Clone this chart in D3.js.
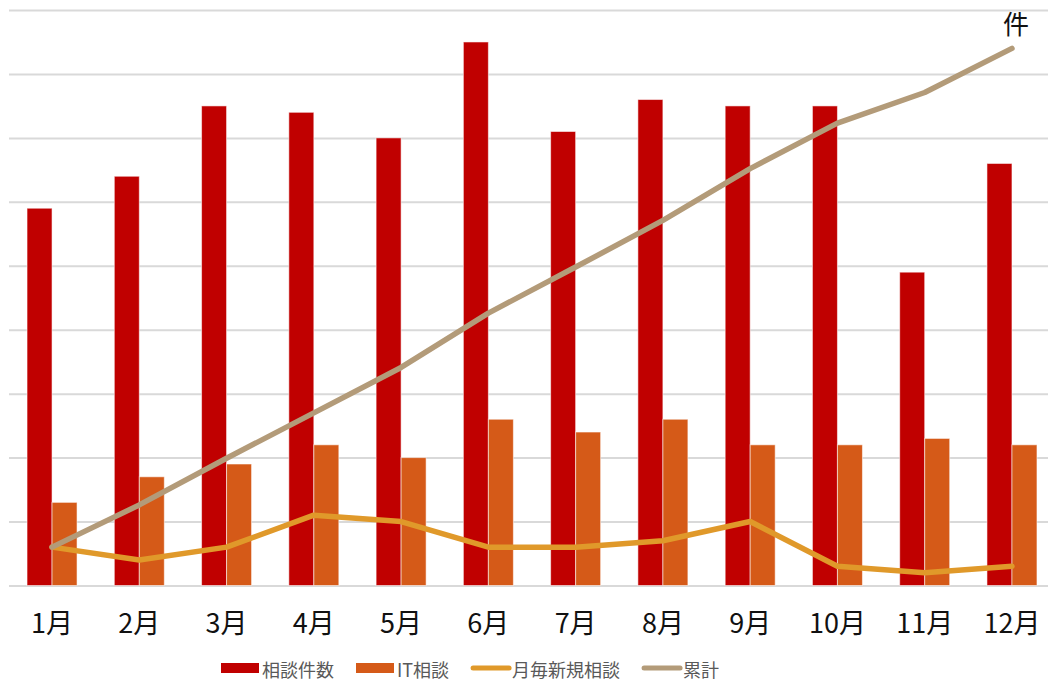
<!DOCTYPE html>
<html>
<head>
<meta charset="utf-8">
<script src="https://cdn.jsdelivr.net/npm/d3@7/dist/d3.min.js"></script>
<style>
  html, body { margin: 0; padding: 0; background: #fff; overflow: hidden; }
  svg { display: block; font-family: "Noto Sans CJK JP", "Noto Sans", sans-serif; }
</style>
</head>
<body>
<svg id="chart" width="1048" height="682"></svg>
<script>
// ---- data ----
const months = ["1月","2月","3月","4月","5月","6月","7月","8月","9月","10月","11月","12月"];
const consults = [59, 64, 75, 74, 70, 85, 71, 76, 75, 75, 49, 66];      // 相談件数
const itConsults = [13, 17, 19, 22, 20, 26, 24, 26, 22, 22, 23, 22];    // IT相談
const monthlyNew = [6, 4, 6, 11, 10, 6, 6, 7, 10, 3, 2, 3];             // 月毎新規相談
const cumulative = [60, 126, 199, 270, 341, 426, 498, 571, 652, 723, 771, 840]; // 累計 (secondary axis)
const leftTicks = [0, 10, 20, 30, 40, 50, 60, 70, 80, 90];
const seriesNames = ["相談件数", "IT相談", "月毎新規相談", "累計"];
const unitLabel = "件";

// ---- styles ----
const colors = { "相談件数": "#C00000", "IT相談": "#D55A18", "月毎新規相談": "#E0992A", "累計": "#B39B79" };

const svg = d3.select("#chart");
const plot = { left: 8.4, right: 1055.6, top: 10, bottom: 585.5 };

const x0 = d3.scaleBand().domain(months).range([plot.left, plot.right]).padding(0);
const groupW = x0.bandwidth() * 0.573;
const x1 = d3.scaleBand().domain(["相談件数", "IT相談"]).range([0, groupW]);
const y = d3.scaleLinear().domain([0, 90]).range([plot.bottom, plot.top]);
const y2 = d3.scaleLinear().domain([0, 900]).range([plot.bottom, plot.top]);

// gridlines
const grid = svg.append("g")
  .attr("transform", `translate(${plot.left + 0.6},0)`)
  .call(d3.axisLeft(y).tickValues(leftTicks).tickSize(-(plot.right - plot.left)).tickFormat(""));
grid.select(".domain").remove();
grid.selectAll("line").attr("stroke", "#d9d9d9").attr("stroke-width", 2);

// bars
const groups = svg.append("g").selectAll("g").data(months).join("g")
  .attr("transform", d => `translate(${x0(d) + (x0.bandwidth() - groupW) / 2},0)`);

groups.append("rect")
  .attr("x", x1("相談件数"))
  .attr("width", x1.bandwidth())
  .attr("y", (d, i) => y(consults[i]))
  .attr("height", (d, i) => y(0) - y(consults[i]))
  .attr("fill", colors["相談件数"])
  .attr("stroke", "rgba(255,255,255,0.55)").attr("stroke-width", 1);

groups.append("rect")
  .attr("x", x1("IT相談"))
  .attr("width", x1.bandwidth())
  .attr("y", (d, i) => y(itConsults[i]))
  .attr("height", (d, i) => y(0) - y(itConsults[i]))
  .attr("fill", colors["IT相談"])
  .attr("stroke", "rgba(255,255,255,0.55)").attr("stroke-width", 1);

const cx = m => x0(m) + x0.bandwidth() / 2;

// monthly new line
svg.append("path")
  .datum(months.map((m, i) => [cx(m), y(monthlyNew[i])]))
  .attr("fill", "none")
  .attr("stroke", colors["月毎新規相談"])
  .attr("stroke-width", 5.5)
  .attr("stroke-linejoin", "round")
  .attr("stroke-linecap", "round")
  .attr("d", d3.line());

// cumulative line
svg.append("path")
  .datum(months.map((m, i) => [cx(m), y2(cumulative[i])]))
  .attr("fill", "none")
  .attr("stroke", colors["累計"])
  .attr("stroke-width", 5.5)
  .attr("stroke-linejoin", "round")
  .attr("stroke-linecap", "round")
  .attr("d", d3.line());

// x axis labels
const xAxis = svg.append("g")
  .attr("transform", `translate(0,${plot.bottom})`)
  .call(d3.axisBottom(x0).tickSize(0).tickPadding(0));
xAxis.select(".domain").remove();
xAxis.selectAll("text")
  .attr("y", 47)
  .attr("dy", null)
  .attr("fill", "#111")
  .style("font-size", "27px")
  .style("font-family", '"Noto Sans CJK JP", sans-serif');

// unit label
svg.append("text")
  .attr("x", cx("12月") + 4)
  .attr("y", 34)
  .attr("text-anchor", "middle")
  .attr("fill", "#111")
  .style("font-size", "26px")
  .text(unitLabel);

// legend
const legend = svg.append("g");
let lx = 221;
const ly = 668;
seriesNames.forEach((name, i) => {
  const g = legend.append("g");
  if (i < 2) {
    g.append("rect").attr("x", lx).attr("y", ly - 5).attr("width", 38).attr("height", 10)
      .attr("fill", colors[name]);
  } else {
    g.append("line").attr("x1", lx + 2).attr("x2", lx + 38).attr("y1", ly).attr("y2", ly)
      .attr("stroke", colors[name]).attr("stroke-width", 5).attr("stroke-linecap", "round");
  }
  const t = g.append("text").attr("x", lx + 41).attr("y", ly + 9)
    .attr("fill", "#595959").style("font-size", "18px").text(name);
  const w = t.node().getComputedTextLength();
  lx = lx + 41 + w + 22;
});
</script>
</body>
</html>
